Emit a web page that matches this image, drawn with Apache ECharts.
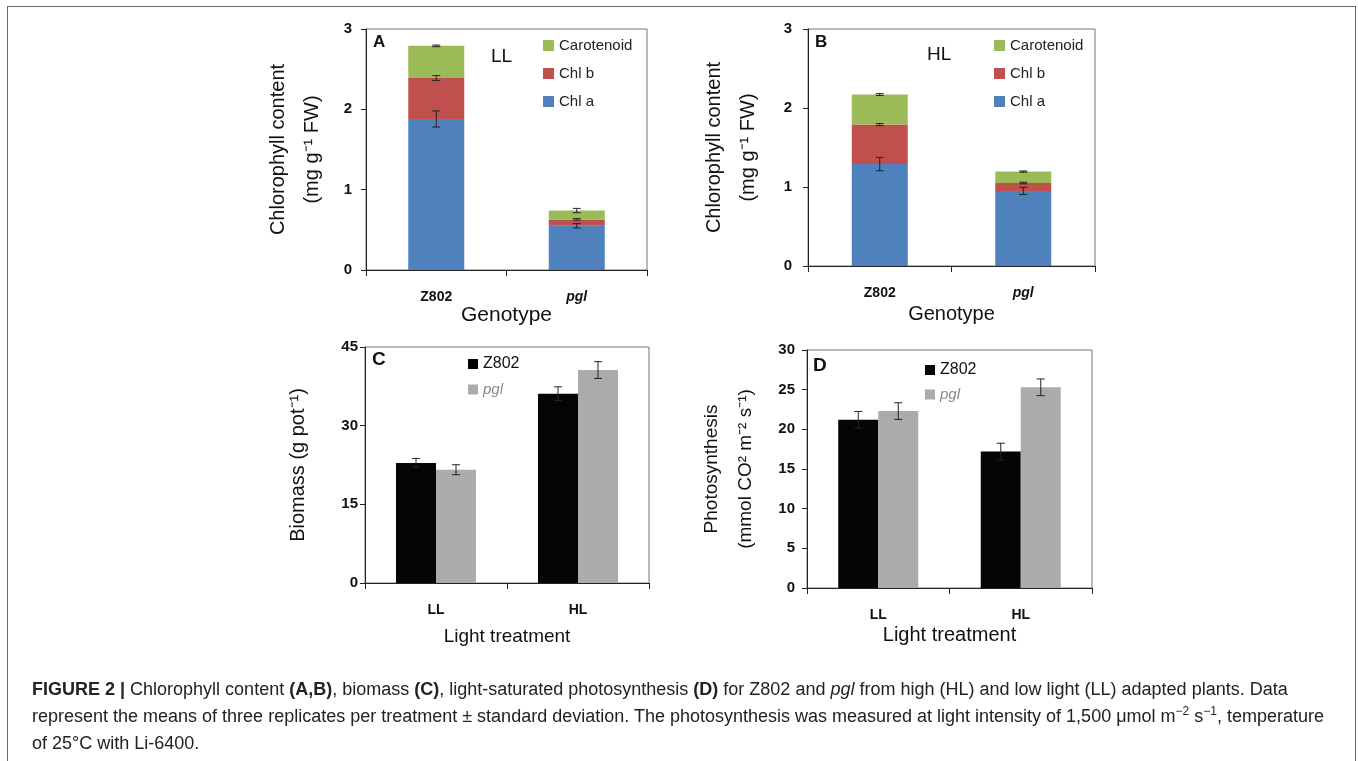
<!DOCTYPE html>
<html>
<head>
<meta charset="utf-8">
<title>Figure 2</title>
<script src="https://cdn.jsdelivr.net/npm/echarts@6/dist/echarts.min.js"></script>
<style>
  html, body { margin: 0; padding: 0; background: #fff; }
  #frame {
    position: absolute; left: 7px; top: 6px; width: 1347px; height: 800px;
    border: 1px solid #666; border-bottom: none;
  }
  #chart { position: absolute; left: 0; top: 0; width: 1358px; height: 761px; }
  #caption {
    position: absolute; left: 32px; top: 676px;
    font-family: "Liberation Sans", Arial, sans-serif; font-size: 18px;
    line-height: 27px; color: #222; white-space: nowrap;
  }
  #caption sup { font-size: 12px; line-height: 0; }
</style>
</head>
<body>
<div id="frame"></div>
<div id="chart"></div>
<div id="caption">
  <b>FIGURE 2 |</b> Chlorophyll content <b>(A,B)</b>, biomass <b>(C)</b>, light-saturated photosynthesis <b>(D)</b> for Z802 and <i>pgl</i> from high (HL) and low light (LL) adapted plants. Data<br>
  represent the means of three replicates per treatment ± standard deviation. The photosynthesis was measured at light intensity of 1,500 μmol m<sup>−2</sup> s<sup>−1</sup>, temperature<br>
  of 25°C with Li-6400.
</div>
<script>
// panels A, B: pigments per genotype
var genotypes = ['Z802', 'pgl']
var pigmentLegend = ['Carotenoid', 'Chl b', 'Chl a']

var llChlA = [1.88, 0.55]
var llChlB = [0.51, 0.08]
var llCar = [0.40, 0.11]
var llChlAErr = [0.10, 0.027]
var llChlBErr = [0.03, 0.01]
var llCarErr = [0.01, 0.027]

var hlChlA = [1.29, 0.95]
var hlChlB = [0.50, 0.10]
var hlCar = [0.38, 0.145]
var hlChlAErr = [0.085, 0.045]
var hlChlBErr = [0.013, 0.01]
var hlCarErr = [0.012, 0.008]

// panels C, D: per light treatment
var treatments = ['LL', 'HL']
var biomassZ802 = [22.9, 36.1]
var biomassPgl = [21.6, 40.6]
var biomassZ802Err = [0.85, 1.3]
var biomassPglErr = [0.95, 1.6]
var photoZ802 = [21.2, 17.2]
var photoPgl = [22.3, 25.3]
var photoZ802Err = [1.05, 1.05]
var photoPglErr = [1.05, 1.05]

var chlTicks = [0, 1, 2, 3]
var biomassTicks = [0, 15, 30, 45]
var photoTicks = [0, 5, 10, 15, 20, 25, 30]

var FONT = '"Liberation Sans", Arial, sans-serif'
var BLUE = '#4F81BD'
var RED = '#C0504D'
var GREEN = '#9BBB59'
var BLACK = '#050505'
var GREY = '#ABABAB'
var GROUP_BAR = 40

function sum (a, b) { return a.map(function (v, i) { return v + b[i] }) }

// [category, top, err] points for one panel's stacked bars
function stackedErrors (chlA, chlB, car, eA, eB, eC) {
  var topB = sum(chlA, chlB)
  var topC = sum(topB, car)
  var pts = []
  chlA.forEach(function (v, i) {
    pts.push([i, v, eA[i]], [i, topB[i], eB[i]], [i, topC[i], eC[i]])
  })
  return pts
}

function pairErrors (values, errs) {
  return values.map(function (v, i) { return [i, v, errs[i]] })
}

function errorBar (side, color) {
  return function (params, api) {
    var x = api.value(0)
    var hi = api.coord([x, api.value(1) + api.value(2)])
    var lo = api.coord([x, api.value(1) - api.value(2)])
    var cx = hi[0] + side * GROUP_BAR / 2
    var cap = 4
    var style = { stroke: color, lineWidth: 1 }
    return {
      type: 'group',
      children: [
        { type: 'line', shape: { x1: cx, y1: hi[1], x2: cx, y2: lo[1] }, style: style },
        { type: 'line', shape: { x1: cx - cap, y1: hi[1], x2: cx + cap, y2: hi[1] }, style: style },
        { type: 'line', shape: { x1: cx - cap, y1: lo[1], x2: cx + cap, y2: lo[1] }, style: style }
      ]
    }
  }
}

function catAxis (grid, data, name, gap, size) {
  return {
    type: 'category',
    gridIndex: grid,
    data: data,
    name: name,
    nameLocation: 'middle',
    nameGap: gap,
    nameTextStyle: { fontFamily: FONT, fontSize: size, color: '#111' },
    axisLine: { lineStyle: { color: '#222', width: 1 } },
    axisTick: { show: true, length: 6, lineStyle: { color: '#222' } },
    axisLabel: {
      margin: 20,
      formatter: function (v) { return v === 'pgl' ? '{i|pgl}' : '{b|' + v + '}' },
      rich: {
        b: { fontFamily: FONT, fontSize: 14, fontWeight: 'bold', color: '#111' },
        i: { fontFamily: FONT, fontSize: 14, fontWeight: 'bold', fontStyle: 'italic', color: '#111' }
      }
    },
    splitLine: { show: false }
  }
}

function valAxis (grid, ticks, name, gap, margin, size) {
  return {
    type: 'value',
    gridIndex: grid,
    min: ticks[0],
    max: ticks[ticks.length - 1],
    interval: ticks[1] - ticks[0],
    name: name,
    nameLocation: 'middle',
    nameGap: gap,
    nameRotate: 90,
    nameTextStyle: { fontFamily: FONT, fontSize: size, color: '#111', lineHeight: 34 },
    axisLine: { show: true, lineStyle: { color: '#222', width: 1 } },
    axisTick: { show: true, length: 5, lineStyle: { color: '#222' } },
    axisLabel: { margin: margin, fontFamily: FONT, fontSize: 15, fontWeight: 'bold', color: '#111' },
    splitLine: { show: false }
  }
}

function stackSeries (axis, chlA, chlB, car) {
  var base = { type: 'bar', stack: 'pig' + axis, xAxisIndex: axis, yAxisIndex: axis, barWidth: 56 }
  return [
    Object.assign({ name: 'Chl a', data: chlA, itemStyle: { color: BLUE } }, base),
    Object.assign({ name: 'Chl b', data: chlB, itemStyle: { color: RED } }, base),
    Object.assign({ name: 'Carotenoid', data: car, itemStyle: { color: GREEN } }, base)
  ]
}

function pairSeries (axis, z802, pgl) {
  var base = { type: 'bar', xAxisIndex: axis, yAxisIndex: axis, barWidth: GROUP_BAR, barGap: '0%' }
  return [
    Object.assign({ name: 'Z802', data: z802, itemStyle: { color: BLACK } }, base),
    Object.assign({ name: 'pgl', data: pgl, itemStyle: { color: GREY } }, base)
  ]
}

function errSeries (axis, pts, side) {
  return {
    type: 'custom',
    name: 'err' + axis + side,
    xAxisIndex: axis,
    yAxisIndex: axis,
    renderItem: errorBar(side, '#222'),
    data: pts,
    z: 10,
    silent: true
  }
}

function pigmentLegendOpt (left) {
  return {
    data: pigmentLegend,
    orient: 'vertical',
    left: left,
    top: 33,
    icon: 'rect',
    itemWidth: 11,
    itemHeight: 11,
    itemGap: 13,
    selectedMode: false,
    textStyle: { fontFamily: FONT, fontSize: 15, color: '#222' }
  }
}

function groupLegendOpt (left, top, gap) {
  return {
    data: [
      { name: 'Z802', textStyle: { fontFamily: FONT, fontSize: 16, color: '#111' } },
      { name: 'pgl', textStyle: { fontFamily: FONT, fontSize: 15, fontStyle: 'italic', color: '#888' } }
    ],
    orient: 'vertical',
    left: left,
    top: top,
    icon: 'rect',
    itemWidth: 10,
    itemHeight: 10,
    itemGap: gap,
    selectedMode: false
  }
}

function label (x, y, text, size, weight) {
  return {
    type: 'text', left: x, top: y,
    style: { text: text, fontFamily: FONT, fontSize: size, fontWeight: weight, fill: '#111' }
  }
}

var chlName = 'Chlorophyll content\n(mg g⁻¹ FW)'
var frame = { show: true, borderColor: '#777', borderWidth: 1, backgroundColor: 'transparent' }

var chart = echarts.init(document.getElementById('chart'))
var option = {
  animation: false,
  grid: [
    Object.assign({ left: 366, top: 29, width: 281, height: 241 }, frame),
    Object.assign({ left: 808, top: 29, width: 287, height: 237 }, frame),
    Object.assign({ left: 365, top: 347, width: 284, height: 236 }, frame),
    Object.assign({ left: 807, top: 350, width: 285, height: 238 }, frame)
  ],
  xAxis: [
    catAxis(0, genotypes, 'Genotype', 35, 21),
    catAxis(1, genotypes, 'Genotype', 38, 20),
    catAxis(2, treatments, 'Light treatment', 44, 19),
    catAxis(3, treatments, 'Light treatment', 37, 20)
  ],
  yAxis: [
    valAxis(0, chlTicks, chlName, 37, 14, 20),
    valAxis(1, chlTicks, chlName, 43, 16, 20),
    valAxis(2, biomassTicks, 'Biomass (g pot⁻¹)', 50, 7, 20),
    valAxis(3, photoTicks, 'Photosynthesis\n(mmol CO² m⁻² s⁻¹)', 44, 12, 19)
  ],
  legend: [
    pigmentLegendOpt(538),
    pigmentLegendOpt(989),
    groupLegendOpt(463, 351, 10),
    groupLegendOpt(920, 357, 9)
  ],
  graphic: [
    label(373, 34, 'A', 17, 'bold'),
    label(491, 47, 'LL', 19, 'normal'),
    label(815, 34, 'B', 17, 'bold'),
    label(927, 45, 'HL', 19, 'normal'),
    label(372, 350, 'C', 19, 'bold'),
    label(813, 356, 'D', 19, 'bold')
  ],
  series: [].concat(
    stackSeries(0, llChlA, llChlB, llCar),
    [errSeries(0, stackedErrors(llChlA, llChlB, llCar, llChlAErr, llChlBErr, llCarErr), 0)],
    stackSeries(1, hlChlA, hlChlB, hlCar),
    [errSeries(1, stackedErrors(hlChlA, hlChlB, hlCar, hlChlAErr, hlChlBErr, hlCarErr), 0)],
    pairSeries(2, biomassZ802, biomassPgl),
    [errSeries(2, pairErrors(biomassZ802, biomassZ802Err), -1), errSeries(2, pairErrors(biomassPgl, biomassPglErr), 1)],
    pairSeries(3, photoZ802, photoPgl),
    [errSeries(3, pairErrors(photoZ802, photoZ802Err), -1), errSeries(3, pairErrors(photoPgl, photoPglErr), 1)]
  )
}
chart.setOption(option)
</script>
</body>
</html>
